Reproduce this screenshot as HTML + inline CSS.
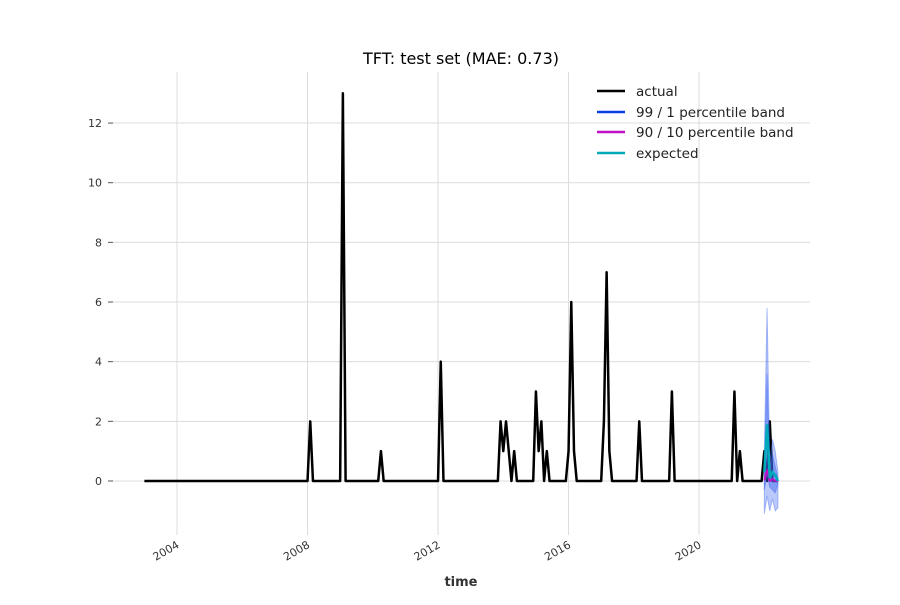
<!DOCTYPE html>
<html><head><meta charset="utf-8"><style>
body{margin:0;background:#fff;font-family:"Liberation Sans","DejaVu Sans",sans-serif}
svg text{font-family:"DejaVu Sans","Liberation Sans",sans-serif}
</style></head><body>
<svg id="chart" width="900" height="600" viewBox="0 0 900 600" xmlns="http://www.w3.org/2000/svg">
<rect width="900" height="600" fill="#fff"/>
<g id="grid"></g><g id="axes"></g><g id="series"></g>
<text x="461" y="64" text-anchor="middle" font-size="16">TFT: test set (MAE: 0.73)</text>
<text x="461" y="586" text-anchor="middle" font-size="13" font-weight="bold" fill="#333">time</text>
<g font-size="13.5" fill="#222">
<g><line x1="597" y1="91" x2="625" y2="91" stroke="#000" stroke-width="2.5"/><text x="636" y="96">actual</text></g>
<g><line x1="597" y1="112" x2="625" y2="112" stroke="#0b3ee0" stroke-width="2.5"/><text x="636" y="117">99 / 1 percentile band</text></g>
<g><line x1="597" y1="132" x2="625" y2="132" stroke="#c010c8" stroke-width="2.5"/><text x="636" y="137">90 / 10 percentile band</text></g>
<g><line x1="597" y1="153" x2="625" y2="153" stroke="#00aabb" stroke-width="2.5"/><text x="636" y="158">expected</text></g>
</g>
</svg>
<script>
// months since Jan 2003 with nonzero actual values
const eventMonths=[61,73,87,109,131,132,133,134,136,144,145,146,148,156,157,158,169,170,171,182,194,217,219,228,230];
const eventValues=[2,13,1,4,2,1,2,1,1,3,1,2,1,1,6,1,2,7,1,2,3,3,1,1,2];
const lastMonth=233;
const fcMonths=[228,229,230,231,232,233];
const fcExpected=[0.3,1.9,0.1,0.3,0.2,0.0];
const fcQ99=[1.0,5.8,0.6,1.4,1.0,0.3];
const fcQ01=[-1.1,-0.5,-1.0,-0.6,-1.0,-0.9];
const fcQ90=[0.5,3.6,0.3,0.9,0.5,0.1];
const fcQ10=[-0.3,0.2,-0.2,-0.3,-0.4,-0.1];
const yTicks=[0,2,4,6,8,10,12];
const xTicks=[2004,2008,2012,2016,2020];

const NS="http://www.w3.org/2000/svg";
const xYear=y=>177+(y-2004)*32.63;
const xMonth=m=>xYear(2003+m/12);
const yVal=v=>481-v*29.83;
function mk(tag,attrs,parent){const e=document.createElementNS(NS,tag);for(const k in attrs)e.setAttribute(k,attrs[k]);parent.appendChild(e);return e;}
const grid=document.getElementById('grid'),axes=document.getElementById('axes'),ser=document.getElementById('series');
yTicks.forEach(t=>{
  const g=mk('line',{x1:113,x2:810,y1:yVal(t),y2:yVal(t),stroke:'#dcdcdc','stroke-width':1},grid);
  
  
  mk('line',{x1:108,x2:113,y1:yVal(t),y2:yVal(t),stroke:'#555'},axes);
  const tx=mk('text',{x:102,y:yVal(t)+4,'text-anchor':'end','font-size':11,fill:'#333'},axes);
  tx.textContent=t;
  
  
});
xTicks.forEach(t=>{
  const x=xYear(t);
  const g=mk('line',{x1:x,x2:x,y1:72,y2:535,stroke:'#dcdcdc','stroke-width':1},grid);
  
  
  const tx=mk('text',{x:x+3,y:547,'text-anchor':'end','font-size':11,fill:'#333',transform:`rotate(-30 ${x+3} 547)`},axes);
  tx.textContent=t;
  
  
});
const vals=[];for(let m=0;m<=lastMonth;m++)vals.push(0);
eventMonths.forEach((m,i)=>vals[m]=eventValues[i]);
const pts=vals.map((v,m)=>xMonth(m).toFixed(2)+','+yVal(v).toFixed(2)).join(' ');
const act=mk('polyline',{points:pts,fill:'none',stroke:'#000','stroke-width':2.5,'stroke-linejoin':'round'},ser);


function band(hi,lo,fill,op,name){
  const p=fcMonths.map((m,i)=>xMonth(m)+','+yVal(hi[i])).concat(fcMonths.map((m,i)=>xMonth(m)+','+yVal(lo[i])).reverse()).join(' ');
  const e=mk('polygon',{points:p,fill:fill,'fill-opacity':op,stroke:fill,'stroke-opacity':0.4},ser);
  
  
}
band(fcQ99,fcQ01,'#3b64f0',0.35,'band-99-1');
band(fcQ90,fcQ10,'#3b64f0',0.45,'band-90-10');
const mid=mk('polyline',{points:fcMonths.map((m,i)=>xMonth(m)+','+yVal((fcQ90[i]+fcQ10[i])/2*0.2)).join(' '),fill:'none',stroke:'#c010c8','stroke-width':2},ser);


const ex=mk('polyline',{points:fcMonths.map((m,i)=>xMonth(m)+','+yVal(fcExpected[i])).join(' '),fill:'none',stroke:'#00aabb','stroke-width':2.5},ser);


</script>
</body></html>
